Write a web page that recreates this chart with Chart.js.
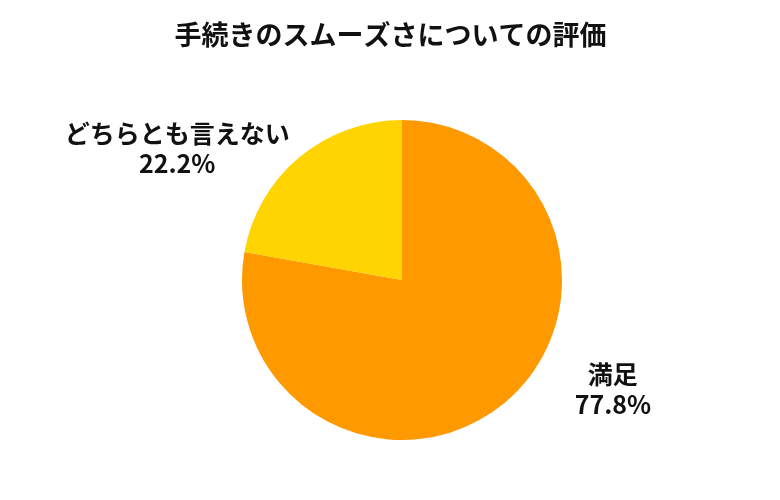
<!DOCTYPE html>
<html lang="ja">
<head>
    <meta charset="UTF-8">
    <title>手続きのスムーズさについての評価</title>
    <style type="text/css">
        html, body {
            margin: 0;
            padding: 0;
            background: #fff;
        }
        .chartBox {
            width: 780px;
            height: 500px;
        }
    </style>
</head>
<body>
    <div class="chartBox">
        <canvas id="myChart" width="780" height="500"></canvas>
    </div>

    <script src="https://cdn.jsdelivr.net/npm/chart.js"></script>
    <script>
        var titleText = '手続きのスムーズさについての評価';
        var labels = ['満足', 'どちらとも言えない'];
        var values = [77.8, 22.2];
        var colors = ['#FF9900', '#FFD400'];

        var fontFamily = '"Noto Sans CJK JP", "Noto Sans", sans-serif';

        // the built-in title squeezes text to the chart width, so draw it here
        var wideTitle = {
            id: 'wideTitle',
            afterDraw: function(chart) {
                var ctx = chart.ctx;
                ctx.save();
                ctx.font = 'bold 27px ' + fontFamily;
                ctx.fillStyle = '#111';
                ctx.textAlign = 'center';
                ctx.textBaseline = 'middle';
                ctx.fillText(titleText, 390.5, 34.5);
                ctx.restore();
            }
        };

        // draws "name / xx.x%" outside each slice
        var outsideLabels = {
            id: 'outsideLabels',
            afterDatasetsDraw: function(chart) {
                var ctx = chart.ctx;
                var meta = chart.getDatasetMeta(0);
                ctx.save();
                ctx.font = 'bold 25px ' + fontFamily;
                ctx.fillStyle = '#111';
                ctx.textAlign = 'center';
                ctx.textBaseline = 'middle';
                meta.data.forEach(function(arc, i) {
                    var p = arc.getProps(['x', 'y', 'startAngle', 'endAngle', 'outerRadius'], true);
                    var mid = (p.startAngle + p.endAngle) / 2;
                    var x = p.x + Math.cos(mid) * p.outerRadius * 2.12 - 7;
                    var y = p.y + Math.sin(mid) * p.outerRadius * 0.98 - 11;
                    ctx.fillText(labels[i], x, y - 15);
                    ctx.fillText(values[i].toFixed(1) + '%', x, y + 15);
                });
                ctx.restore();
            }
        };

        var myChart = new Chart(document.getElementById('myChart').getContext('2d'), {
            type: 'pie',
            data: {
                labels: labels,
                datasets: [{
                    data: values,
                    backgroundColor: colors,
                    borderWidth: 0
                }]
            },
            options: {
                responsive: false,
                animation: false,
                layout: {
                    padding: { left: 200, right: 176, top: 120, bottom: 60 }
                },
                plugins: {
                    title: { display: false },
                    legend: { display: false },
                    tooltip: { enabled: false }
                }
            },
            plugins: [outsideLabels, wideTitle]
        });
    </script>
</body>
</html>
